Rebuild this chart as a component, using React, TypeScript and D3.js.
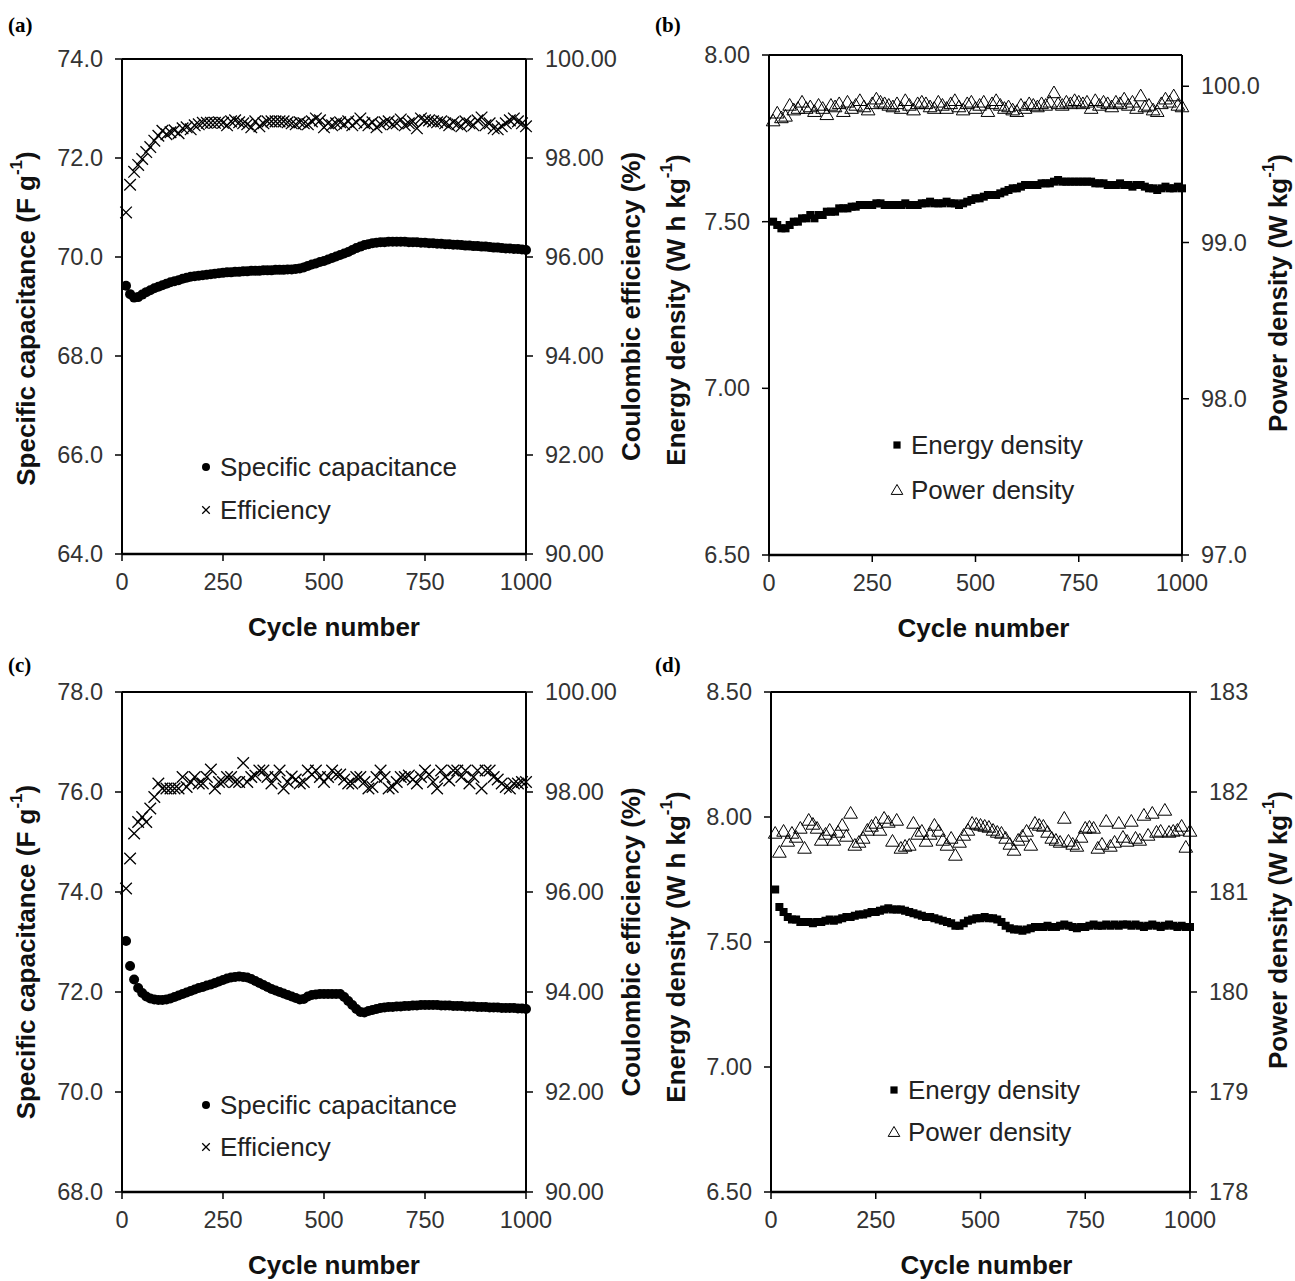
import React from "react";
import * as d3 from "d3";

// ---------- data ----------
const cycles = d3.range(10, 1001, 10);

const capA = [69.42,69.25,69.18,69.19,69.24,69.29,69.33,69.37,69.40,69.43,
69.46,69.49,69.51,69.53,69.56,69.58,69.60,69.61,69.62,69.63,
69.64,69.65,69.66,69.67,69.68,69.69,69.69,69.70,69.70,69.71,
69.71,69.72,69.72,69.72,69.73,69.73,69.73,69.74,69.74,69.74,
69.75,69.75,69.76,69.77,69.79,69.82,69.85,69.87,69.90,69.92,
69.95,69.98,70.01,70.04,70.07,70.10,70.14,70.18,70.21,70.24,
70.26,70.28,70.29,70.30,70.30,70.31,70.31,70.31,70.31,70.31,
70.30,70.30,70.30,70.29,70.29,70.28,70.28,70.27,70.27,70.26,
70.26,70.25,70.25,70.24,70.23,70.23,70.22,70.22,70.21,70.21,
70.20,70.19,70.19,70.18,70.17,70.17,70.16,70.16,70.15,70.14];

const effA = [96.90,97.46,97.72,97.86,97.98,98.12,98.22,98.35,98.45,98.55,
98.48,98.52,98.56,98.50,98.60,98.62,98.58,98.66,98.68,98.71,
98.71,98.71,98.71,98.72,98.71,98.66,98.74,98.76,98.72,98.70,
98.68,98.62,98.74,98.64,98.70,98.74,98.74,98.74,98.74,98.74,
98.72,98.70,98.68,98.72,98.70,98.68,98.74,98.80,98.76,98.62,
98.70,98.66,98.70,98.72,98.68,98.74,98.66,98.72,98.80,98.70,
98.66,98.72,98.62,98.68,98.72,98.74,98.68,98.70,98.78,98.66,
98.70,98.74,98.60,98.80,98.76,98.76,98.74,98.72,98.74,98.70,
98.66,98.72,98.68,98.64,98.74,98.70,98.66,98.76,98.82,98.66,
98.70,98.60,98.58,98.64,98.70,98.76,98.80,98.74,98.70,98.64];

const energyB = [7.50,7.49,7.48,7.48,7.49,7.50,7.50,7.51,7.51,7.52,
7.51,7.52,7.52,7.53,7.53,7.53,7.54,7.54,7.54,7.545,
7.545,7.55,7.55,7.55,7.55,7.555,7.555,7.55,7.55,7.55,
7.55,7.55,7.555,7.55,7.55,7.55,7.555,7.555,7.56,7.555,
7.555,7.555,7.56,7.555,7.555,7.55,7.555,7.56,7.565,7.57,
7.57,7.575,7.58,7.58,7.58,7.585,7.59,7.595,7.60,7.60,
7.605,7.61,7.61,7.61,7.61,7.615,7.615,7.615,7.62,7.625,
7.62,7.62,7.62,7.62,7.62,7.62,7.62,7.62,7.615,7.615,
7.615,7.61,7.61,7.61,7.615,7.61,7.61,7.605,7.61,7.61,
7.605,7.60,7.60,7.595,7.60,7.605,7.60,7.60,7.605,7.60];

const powerB = [99.78,99.83,99.80,99.81,99.88,99.85,99.86,99.90,99.86,99.87,
99.84,99.88,99.86,99.82,99.88,99.87,99.89,99.84,99.90,99.86,
99.88,99.91,99.87,99.85,99.89,99.92,99.90,99.89,99.88,99.87,
99.89,99.86,99.91,99.88,99.85,99.89,99.90,99.89,99.87,99.86,
99.90,99.88,99.86,99.89,99.91,99.87,99.85,99.89,99.90,99.86,
99.88,99.90,99.84,99.89,99.91,99.88,99.86,99.87,99.85,99.84,
99.88,99.86,99.89,99.88,99.87,99.89,99.88,99.90,99.96,99.89,
99.88,99.90,99.89,99.91,99.90,99.89,99.90,99.86,99.91,99.88,
99.90,99.89,99.87,99.90,99.89,99.92,99.88,99.90,99.86,99.94,
99.87,99.88,99.85,99.84,99.89,99.92,99.90,99.94,99.88,99.87];

const capC = [73.02,72.52,72.25,72.08,71.98,71.91,71.87,71.85,71.84,71.84,
71.85,71.87,71.90,71.93,71.96,71.99,72.02,72.05,72.08,72.10,
72.13,72.15,72.18,72.21,72.24,72.27,72.29,72.30,72.31,72.30,
72.29,72.26,72.22,72.18,72.14,72.10,72.06,72.03,72.00,71.97,
71.94,71.91,71.88,71.85,71.86,71.91,71.94,71.95,71.96,71.96,
71.96,71.96,71.96,71.96,71.90,71.82,71.74,71.66,71.60,71.59,
71.62,71.64,71.66,71.68,71.69,71.70,71.70,71.71,71.71,71.72,
71.72,71.73,71.73,71.74,71.74,71.74,71.74,71.74,71.73,71.73,
71.73,71.72,71.72,71.72,71.71,71.71,71.71,71.70,71.70,71.70,
71.69,71.69,71.69,71.68,71.68,71.68,71.68,71.67,71.67,71.66];

const effC = [96.07,96.67,97.17,97.40,97.50,97.40,97.67,97.90,98.17,98.07,
98.07,98.07,98.07,98.07,98.30,98.10,98.20,98.30,98.17,98.17,
98.30,98.45,98.07,98.20,98.20,98.30,98.30,98.20,98.20,98.58,
98.20,98.30,98.33,98.43,98.43,98.30,98.17,98.30,98.43,98.07,
98.20,98.31,98.25,98.17,98.20,98.43,98.35,98.43,98.30,98.20,
98.30,98.43,98.35,98.35,98.25,98.17,98.17,98.30,98.30,98.20,
98.07,98.10,98.30,98.43,98.30,98.07,98.10,98.20,98.30,98.30,
98.33,98.25,98.17,98.30,98.43,98.35,98.20,98.07,98.43,98.30,
98.23,98.43,98.43,98.30,98.43,98.17,98.30,98.43,98.07,98.43,
98.43,98.30,98.25,98.17,98.10,98.07,98.17,98.17,98.20,98.20];

const energyD = [7.71,7.64,7.62,7.60,7.59,7.59,7.58,7.58,7.58,7.575,
7.58,7.58,7.585,7.59,7.585,7.59,7.595,7.60,7.60,7.605,
7.61,7.61,7.615,7.62,7.62,7.625,7.63,7.635,7.63,7.63,
7.63,7.625,7.62,7.615,7.61,7.605,7.60,7.60,7.595,7.59,
7.585,7.58,7.575,7.565,7.565,7.575,7.585,7.59,7.595,7.595,
7.60,7.595,7.595,7.59,7.58,7.565,7.555,7.55,7.55,7.545,
7.55,7.555,7.56,7.56,7.56,7.565,7.56,7.56,7.565,7.57,
7.565,7.56,7.555,7.56,7.56,7.565,7.57,7.565,7.565,7.57,
7.565,7.57,7.565,7.57,7.57,7.565,7.57,7.565,7.56,7.565,
7.57,7.565,7.56,7.565,7.57,7.565,7.56,7.565,7.56,7.56];

const powerD = [181.59,181.40,181.61,181.51,181.59,181.55,181.64,181.44,181.72,181.68,
181.64,181.52,181.58,181.62,181.52,181.60,181.67,181.56,181.79,181.47,
181.50,181.54,181.62,181.66,181.69,181.62,181.74,181.70,181.51,181.72,
181.44,181.46,181.47,181.69,181.58,181.61,181.51,181.58,181.67,181.61,
181.52,181.47,181.54,181.37,181.50,181.57,181.62,181.69,181.68,181.67,
181.66,181.65,181.62,181.60,181.59,181.54,181.48,181.42,181.52,181.56,
181.61,181.47,181.69,181.67,181.66,181.60,181.54,181.52,181.50,181.74,
181.51,181.48,181.46,181.55,181.64,181.65,181.64,181.44,181.48,181.71,
181.46,181.50,181.69,181.55,181.51,181.71,181.54,181.52,181.77,181.57,
181.79,181.60,181.61,181.82,181.60,181.61,181.62,181.66,181.45,181.61];

const xTicks = [0, 250, 500, 750, 1000];
const capATicks = [64, 66, 68, 70, 72, 74];
const effTicks = [90, 92, 94, 96, 98, 100];
const energyBTicks = [6.5, 7.0, 7.5, 8.0];
const powerBTicks = [97, 98, 99, 100];
const capCTicks = [68, 70, 72, 74, 76, 78];
const energyDTicks = [6.5, 7.0, 7.5, 8.0, 8.5];
const powerDTicks = [178, 179, 180, 181, 182, 183];

// ---------- drawing ----------
type Marker = "circle" | "cross" | "square" | "triangle";

const FONT = "'Liberation Sans', Arial, sans-serif";
const TICK_FS = 23.5;
const LEG_FS = 26;
const TITLE_FS = 26;

function MarkerShape({ type, x, y, s = 1 }: { type: Marker; x: number; y: number; s?: number }) {
  if (type === "circle") return <circle cx={x} cy={y} r={5 * s} fill="#000" />;
  if (type === "square")
    return <rect x={x - 4 * s} y={y - 4 * s} width={8 * s} height={8 * s} fill="#000" />;
  if (type === "cross") {
    const h = 5.8 * s;
    return (
      <path
        d={`M${x - h},${y - h}L${x + h},${y + h}M${x - h},${y + h}L${x + h},${y - h}`}
        stroke="#000"
        strokeWidth={1.3}
        fill="none"
      />
    );
  }
  const h = 6.5 * s;
  return (
    <path
      d={`M${x},${y - h}L${x + h * 1.05},${y + h * 0.8}L${x - h * 1.05},${y + h * 0.8}Z`}
      stroke="#000"
      strokeWidth={1}
      fill="none"
    />
  );
}

type Title = { main: string; sup?: string; tail?: string };

function TitleText({ t }: { t: Title }) {
  return (
    <>
      {t.main}
      {t.sup && (
        <tspan dy={-10} fontSize={17}>
          {t.sup}
        </tspan>
      )}
      {t.tail && <tspan dy={t.sup ? 10 : 0}>{t.tail}</tspan>}
    </>
  );
}

type PanelProps = {
  label: string;
  labelX: number;
  labelY: number;
  x0: number;
  x1: number;
  y0: number;
  y1: number;
  leftDomain: [number, number];
  rightDomain: [number, number];
  leftTicks: number[];
  rightTicks: number[];
  leftFmt: string;
  rightFmt: string;
  leftData: number[];
  rightData: number[];
  leftMarker: Marker;
  rightMarker: Marker;
  leftTitle: Title;
  rightTitle: Title;
  leftTitleX: number;
  rightTitleX: number;
  leftTitleDY: number;
  rightTitleDY: number;
  xTitleShift: number;
  legend: { x: number; y: number; gap: number; leftName: string; rightName: string; leftMarkerScale: number; rightMarkerScale: number };
};

function Panel(p: PanelProps) {
  const xs = d3.scaleLinear().domain([0, 1000]).range([p.x0, p.x1]);
  const yl = d3.scaleLinear().domain(p.leftDomain).range([p.y1, p.y0]);
  const yr = d3.scaleLinear().domain(p.rightDomain).range([p.y1, p.y0]);
  const fl = d3.format(p.leftFmt);
  const fr = d3.format(p.rightFmt);
  const midY = (p.y0 + p.y1) / 2;
  const tl = 7;
  return (
    <g>
      <text x={p.labelX} y={p.labelY} fontFamily="'Liberation Serif', 'Times New Roman', serif" fontWeight="bold" fontSize={21}>
        {p.label}
      </text>
      {/* data */}
      {p.rightData.map((v, i) => (
        <MarkerShape key={"r" + i} type={p.rightMarker} x={xs(cycles[i])} y={yr(v)} />
      ))}
      {p.leftData.map((v, i) => (
        <MarkerShape key={"l" + i} type={p.leftMarker} x={xs(cycles[i])} y={yl(v)} />
      ))}
      {/* frame */}
      <line x1={p.x0} x2={p.x1} y1={p.y0} y2={p.y0} stroke="#000" strokeWidth={2} />
      <line x1={p.x0} x2={p.x1} y1={p.y1} y2={p.y1} stroke="#000" strokeWidth={2.4} />
      <line x1={p.x0} x2={p.x0} y1={p.y0} y2={p.y1} stroke="#000" strokeWidth={2} />
      <line x1={p.x1} x2={p.x1} y1={p.y0} y2={p.y1} stroke="#000" strokeWidth={2} />
      {/* left ticks */}
      {p.leftTicks.map((t) => (
        <g key={"lt" + t}>
          <line x1={p.x0 - tl} x2={p.x0} y1={yl(t)} y2={yl(t)} stroke="#000" strokeWidth={1.5} />
          <text x={p.x0 - 19} y={yl(t)} textAnchor="end" dominantBaseline="central" fontFamily={FONT} fontSize={TICK_FS} fill="#333">
            {fl(t)}
          </text>
        </g>
      ))}
      {/* right ticks */}
      {p.rightTicks.map((t) => (
        <g key={"rt" + t}>
          <line x1={p.x1} x2={p.x1 + tl} y1={yr(t)} y2={yr(t)} stroke="#000" strokeWidth={1.5} />
          <text x={p.x1 + 19} y={yr(t)} textAnchor="start" dominantBaseline="central" fontFamily={FONT} fontSize={TICK_FS} fill="#333">
            {fr(t)}
          </text>
        </g>
      ))}
      {/* bottom ticks */}
      {xTicks.map((t) => (
        <g key={"xt" + t}>
          <line x1={xs(t)} x2={xs(t)} y1={p.y1} y2={p.y1 + tl} stroke="#000" strokeWidth={1.5} />
          <text x={xs(t)} y={p.y1 + 28} textAnchor="middle" dominantBaseline="central" fontFamily={FONT} fontSize={TICK_FS} fill="#333">
            {t}
          </text>
        </g>
      ))}
      {/* axis titles */}
      <text
        x={(p.x0 + p.x1) / 2 + p.xTitleShift}
        y={p.y1 + 73}
        textAnchor="middle"
        dominantBaseline="central"
        fontFamily={FONT}
        fontWeight="bold"
        fontSize={TITLE_FS}
        fill="#111"
      >
        Cycle number
      </text>
      <text
        transform={`translate(${p.leftTitleX},${midY + p.leftTitleDY}) rotate(-90)`}
        textAnchor="middle"
        dominantBaseline="central"
        fontFamily={FONT}
        fontWeight="bold"
        fontSize={TITLE_FS}
        fill="#111"
      >
        <TitleText t={p.leftTitle} />
      </text>
      <text
        transform={`translate(${p.rightTitleX},${midY + p.rightTitleDY}) rotate(-90)`}
        textAnchor="middle"
        dominantBaseline="central"
        fontFamily={FONT}
        fontWeight="bold"
        fontSize={TITLE_FS}
        fill="#111"
      >
        <TitleText t={p.rightTitle} />
      </text>
      {/* legend */}
      <MarkerShape type={p.leftMarker} x={p.legend.x} y={p.legend.y} s={p.legend.leftMarkerScale} />
      <text x={p.legend.x + 14} y={p.legend.y} dominantBaseline="central" fontFamily={FONT} fontSize={LEG_FS} fill="#222">
        {p.legend.leftName}
      </text>
      <MarkerShape type={p.rightMarker} x={p.legend.x} y={p.legend.y + p.legend.gap} s={p.legend.rightMarkerScale} />
      <text x={p.legend.x + 14} y={p.legend.y + p.legend.gap} dominantBaseline="central" fontFamily={FONT} fontSize={LEG_FS} fill="#222">
        {p.legend.rightName}
      </text>
    </g>
  );
}

export default function App() {
  return (
    <svg width={1295} height={1281} style={{ display: "block", position: "absolute", left: 0, top: 0, background: "#fff" }}>
      <rect width={1295} height={1281} fill="#fff" />
      <Panel
        label="(a)" labelX={8} labelY={32}
        x0={122} x1={526} y0={59} y1={554}
        leftDomain={[64, 74]} rightDomain={[90, 100]}
        leftTicks={capATicks} rightTicks={effTicks}
        leftFmt=".1f" rightFmt=".2f"
        leftData={capA} rightData={effA}
        leftMarker="circle" rightMarker="cross"
        leftTitle={{ main: "Specific capacitance (F g", sup: "-1", tail: ")" }}
        rightTitle={{ main: "Coulombic efficiency (%)" }}
        leftTitleX={26} rightTitleX={631} leftTitleDY={12} rightTitleDY={0} xTitleShift={10}
        legend={{ x: 206, y: 467, gap: 43, leftName: "Specific capacitance", rightName: "Efficiency", leftMarkerScale: 0.8, rightMarkerScale: 0.65 }}
      />
      <Panel
        label="(b)" labelX={655} labelY={32}
        x0={769} x1={1182} y0={55} y1={555}
        leftDomain={[6.5, 8.0]} rightDomain={[97, 100.2]}
        leftTicks={energyBTicks} rightTicks={powerBTicks}
        leftFmt=".2f" rightFmt=".1f"
        leftData={energyB} rightData={powerB}
        leftMarker="square" rightMarker="triangle"
        leftTitle={{ main: "Energy density (W h kg", sup: "-1", tail: ")" }}
        rightTitle={{ main: "Power density (W kg", sup: "-1", tail: ")" }}
        leftTitleX={676} rightTitleX={1278} leftTitleDY={5} rightTitleDY={-12} xTitleShift={8}
        legend={{ x: 897, y: 445, gap: 45, leftName: "Energy density", rightName: "Power density", leftMarkerScale: 0.9, rightMarkerScale: 0.85 }}
      />
      <Panel
        label="(c)" labelX={8} labelY={672}
        x0={122} x1={526} y0={692} y1={1192}
        leftDomain={[68, 78]} rightDomain={[90, 100]}
        leftTicks={capCTicks} rightTicks={effTicks}
        leftFmt=".1f" rightFmt=".2f"
        leftData={capC} rightData={effC}
        leftMarker="circle" rightMarker="cross"
        leftTitle={{ main: "Specific capacitance (F g", sup: "-1", tail: ")" }}
        rightTitle={{ main: "Coulombic efficiency (%)" }}
        leftTitleX={26} rightTitleX={631} leftTitleDY={10} rightTitleDY={0} xTitleShift={10}
        legend={{ x: 206, y: 1105, gap: 42, leftName: "Specific capacitance", rightName: "Efficiency", leftMarkerScale: 0.8, rightMarkerScale: 0.65 }}
      />
      <Panel
        label="(d)" labelX={655} labelY={672}
        x0={771} x1={1190} y0={692} y1={1192}
        leftDomain={[6.5, 8.5]} rightDomain={[178, 183]}
        leftTicks={energyDTicks} rightTicks={powerDTicks}
        leftFmt=".2f" rightFmt="d"
        leftData={energyD} rightData={powerD}
        leftMarker="square" rightMarker="triangle"
        leftTitle={{ main: "Energy density (W h kg", sup: "-1", tail: ")" }}
        rightTitle={{ main: "Power density (W kg", sup: "-1", tail: ")" }}
        leftTitleX={676} rightTitleX={1278} leftTitleDY={5} rightTitleDY={-12} xTitleShift={6}
        legend={{ x: 894, y: 1090, gap: 42, leftName: "Energy density", rightName: "Power density", leftMarkerScale: 0.9, rightMarkerScale: 0.85 }}
      />
    </svg>
  );
}
